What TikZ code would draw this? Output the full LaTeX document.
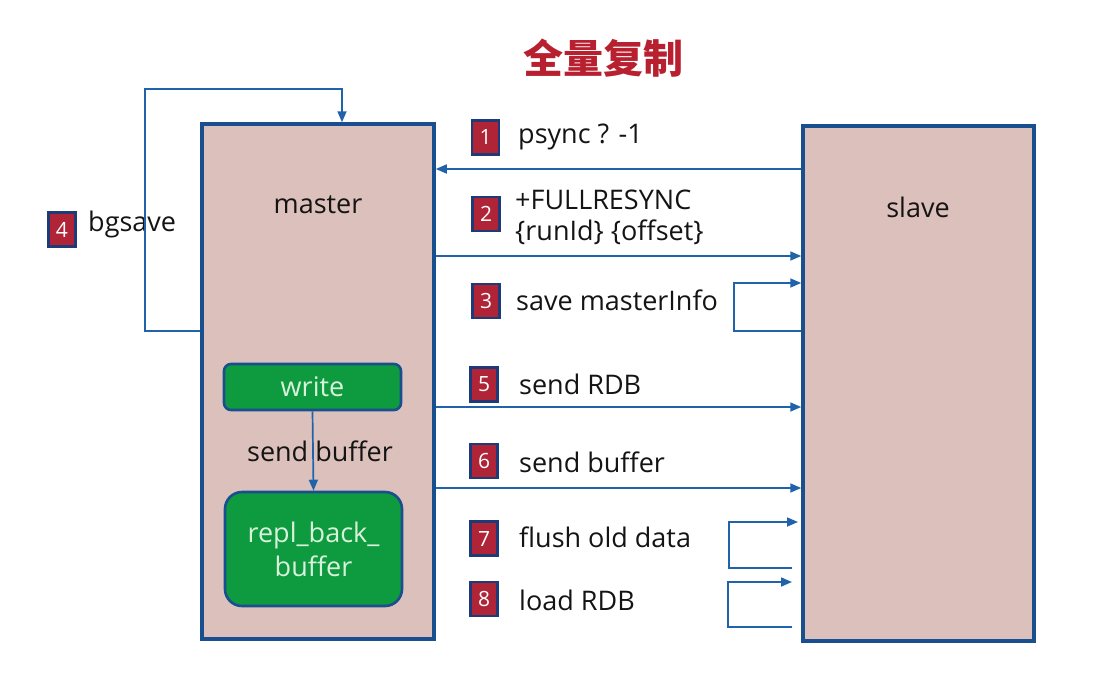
\documentclass[tikz,border=0pt]{standalone}
\usepackage{fontspec}
\setmainfont{Open Sans}
\newfontfamily\cjk{Noto Sans CJK SC}
\usetikzlibrary{arrows.meta}
\definecolor{boxfill}{HTML}{DCC0BB}
\definecolor{boxline}{HTML}{1A4F8F}
\definecolor{arrowc}{HTML}{2063AB}
\definecolor{badgefill}{HTML}{B02438}
\definecolor{badgeline}{HTML}{1E3B78}
\definecolor{gfill}{HTML}{0E9A3E}
\definecolor{gtext}{HTML}{D9F2DC}
\definecolor{titlec}{HTML}{B8202F}
\definecolor{txt}{HTML}{141414}
\begin{document}
\begin{tikzpicture}[x=1pt,y=-1pt,
  box/.style={draw=boxline, line width=3.5pt, fill=boxfill, inner sep=0pt},
  badge/.style={draw=badgeline, line width=2.8pt, fill=badgefill, minimum width=27pt, minimum height=34pt, inner sep=0pt, text=white, font=\fontsize{21}{21}\selectfont},
  lbl/.style={anchor=west, font=\fontsize{27}{31}\selectfont, inner sep=0pt, text=txt},
  ctext/.style={font=\fontsize{27}{31}\selectfont, inner sep=0pt, text=txt},
  conn/.style={draw=arrowc, line width=1.7pt, -{Triangle[length=11pt,width=9pt]}},
  gbox/.style={draw=boxline, line width=2.6pt, fill=gfill, text=gtext, inner sep=0pt, align=center, font=\fontsize{27}{34}\selectfont}
]
\useasboundingbox (0,0) rectangle (1108,675);
% title
\node[font=\cjk\bfseries\fontsize{40}{44}\selectfont, text=titlec] (title) at (603,58) {全量复制};
% main boxes
\node[box, minimum width=232pt, minimum height=515pt] (master) at (318,381.5) {};
\node[box, minimum width=231pt, minimum height=515pt] (slave) at (918.5,383.5) {};
\node[ctext] (mastertxt) at (318,205) {master};
\node[ctext] (slavetxt) at (918,207) {slave};
% green boxes
\node[gbox, rounded corners=7pt, minimum width=177pt, minimum height=46pt] (write) at (312.5,387) {write};
\node[gbox, rounded corners=17pt, minimum width=177pt, minimum height=114pt] (repl) at (313.5,549) {repl\_back\_\\buffer};
\draw[conn] (write.south) -- (repl.north);
\node[ctext] (sendbuf) at (320,451) {send buffer};
% badges
\node[badge] (b1) at (485.5,137.5) {1};
\node[badge] (b2) at (486,214) {2};
\node[badge] (b3) at (486,301) {3};
\node[badge] (b4) at (62,229.5) {4};
\node[badge] (b5) at (484,384.5) {5};
\node[badge] (b6) at (484,461) {6};
\node[badge] (b7) at (484,538.5) {7};
\node[badge] (b8) at (484,599) {8};
% labels
\node[lbl] (t1) at (518,137) {psync ? -1};
\node[lbl, align=left] (t2) at (515,217) {+FULLRESYNC\\\{runId\} \{offset\}};
\node[lbl] (t3) at (516,300) {save masterInfo};
\node[lbl] (t4) at (88,224) {bgsave};
\node[lbl] (t5) at (519,384) {send RDB};
\node[lbl] (t6) at (519,462) {send buffer};
\node[lbl] (t7) at (519,537) {flush old data};
\node[lbl] (t8) at (519,600) {load RDB};
% connectors
\coordinate (y1) at (0,169);
\coordinate (y2) at (0,256);
\coordinate (y5) at (0,407);
\coordinate (y6) at (0,488);
\draw[conn] (slave.west |- y1) -- (master.east |- y1);
\draw[conn] (master.east |- y2) -- (slave.west |- y2);
\draw[conn] (master.east |- y5) -- (slave.west |- y5);
\draw[conn] (master.east |- y6) -- (slave.west |- y6);
% bgsave loop
\coordinate (bs) at (0,331);
\coordinate (bl) at (145,89);
\coordinate (bt) at (342,89);
\draw[conn] (master.west |- bs) -| (bl) -| (bt |- master.north);
% save masterInfo loop
\coordinate (l3s) at (0,331);
\coordinate (l3c) at (734,283);
\draw[conn] (slave.west |- l3s) -| (l3c) -- (slave.west |- l3c);
% flush loop
\coordinate (l7s) at (792,568);
\coordinate (l7c) at (729,522);
\coordinate (l7e) at (798,522);
\draw[conn] (l7s) -| (l7c) -- (l7e);
% load loop
\coordinate (l8s) at (792,627);
\coordinate (l8c) at (728,582);
\coordinate (l8e) at (792,582);
\draw[conn] (l8s) -| (l8c) -- (l8e);
\end{tikzpicture}
\end{document}
